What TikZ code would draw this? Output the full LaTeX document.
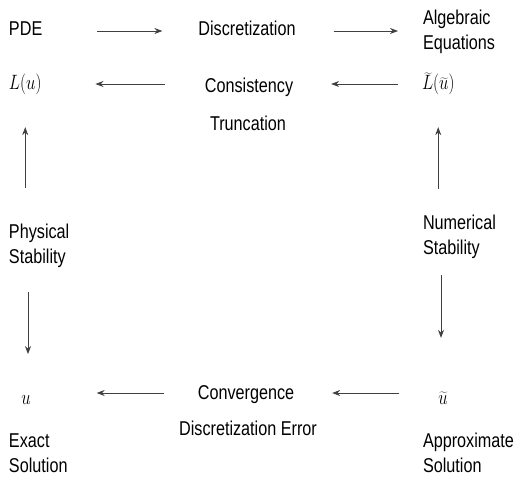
\documentclass[tikz,border=0pt]{standalone}
\usepackage{fontspec}
\setmainfont[FakeStretch=0.81]{Liberation Sans}
\usepackage{graphicx}
\usetikzlibrary{arrows.meta,calc}
\newcommand{\mathsq}[1]{\scalebox{0.81}[1]{$#1$}}
\begin{document}
\begin{tikzpicture}[x=1pt,y=-1pt,
  lbl/.style={inner sep=0pt, outer sep=0pt, font=\fontsize{20}{25}\selectfont, align=left},
  arr/.style={draw=black!75, line width=0.8pt, -{Stealth[length=8pt,width=6pt]}}]
\useasboundingbox (0,0) rectangle (516,476);
% row 1
\node[lbl, anchor=base west] (pde) at (9,36) {PDE};
\node[lbl, anchor=base] (disc) at (247,36) {Discretization};
\node[lbl, anchor=base west] (alg) at (423,50) {Algebraic\\Equations};
% row 2
\node[lbl, anchor=base west] (Lu) at (9,90) {\mathsq{L(u)}};
\node[lbl, anchor=base] (cons) at (249,93) {Consistency};
\node[lbl, anchor=base west] (Ltu) at (422,90) {\mathsq{\widetilde{L}(\widetilde{u})}};
\node[lbl, anchor=base] (trunc) at (248,130) {Truncation};
% middle
\node[lbl, anchor=base west] (phys) at (9,263) {Physical\\Stability};
\node[lbl, anchor=base west] (num) at (423,254) {Numerical\\Stability};
% bottom
\node[lbl, anchor=base] (u) at (26,404) {\mathsq{u}};
\node[lbl, anchor=base] (conv) at (246,399) {Convergence};
\node[lbl, anchor=base] (ut) at (443,404) {\mathsq{\widetilde{u}}};
\node[lbl, anchor=base] (derr) at (248,435) {Discretization Error};
\node[lbl, anchor=base west] (exact) at (9,472) {Exact\\Solution};
\node[lbl, anchor=base west] (approx) at (423,472) {Approximate\\Solution};
% horizontal connectors
\draw[arr] ($(pde.base east)+(55,-5)$) -- ($(disc.base west)+(-36,-5)$);
\draw[arr] ($(disc.base east)+(38,-5)$) -- ($(alg.west |- disc.base)+(-25,-5)$);
\draw[arr] ($(cons.base west)+(-40,-9)$) -- ($(Lu.base east)+(54,-6)$);
\draw[arr] ($(Ltu.base west)+(-24,-6)$) -- ($(cons.base east)+(38,-9)$);
\draw[arr] ($(conv.base west)+(-34,-6)$) -- ($(u.base east)+(66,-11)$);
\draw[arr] ($(ut.base west)+(-39,-11)$) -- ($(conv.base east)+(38,-6)$);
% vertical connectors
\draw[arr, shorten <=36pt, shorten >=32pt] (Lu.south |- phys.north) -- (Lu.south);
\draw[arr, shorten <=25pt, shorten >=41pt] ($(u.north |- phys.south)+(2,0)$) -- ($(u.north)+(2,0)$);
\draw[arr, shorten <=26pt, shorten >=32pt] (Ltu.south |- num.north) -- (Ltu.south);
\draw[arr, shorten <=17pt, shorten >=54pt] ($(ut.north |- num.south)+(-2,0)$) -- ($(ut.north)+(-2,0)$);
\end{tikzpicture}
\end{document}
